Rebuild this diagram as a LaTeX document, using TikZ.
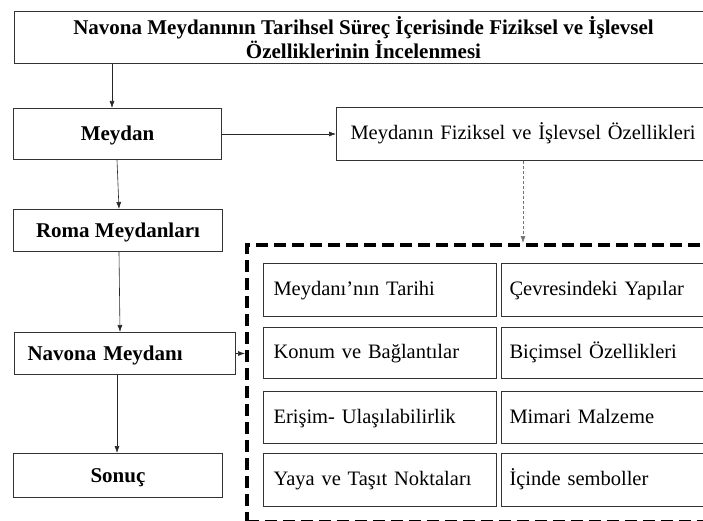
\documentclass[tikz,border=0pt]{standalone}
\usepackage{fontspec}
\setmainfont{Liberation Serif}
\usetikzlibrary{arrows.meta}
\begin{document}
\begin{tikzpicture}[x=1pt,y=-1pt,
  box/.style={draw=black!80, line width=1pt, anchor=north west, inner sep=0pt},
  bbox/.style={box, font=\bfseries\fontsize{21}{25}\selectfont},
  ltxt/.style={text height=17pt, text depth=3pt},
  ibox/.style={box, minimum height=52pt, align=left, text height=15pt, text depth=4pt, font=\fontsize{20.5}{24}\selectfont},
  arr/.style={draw=black!85, line width=0.6pt, -{Latex[length=7pt,width=5pt]}},
  darr/.style={draw=black!55, line width=0.6pt, dash pattern=on 3pt off 2pt, -{Latex[length=7pt,width=5pt]}},
  grp/.style={draw=black, line width=3.5pt, dash pattern=on 12pt off 6pt, anchor=north west, inner sep=0pt}]
\useasboundingbox (0,0) rectangle (703,521);
% title
\node[bbox, minimum width=698pt, minimum height=52pt, align=center] (title) at (14,11)
  {Navona Meydanının Tarihsel Süreç İçerisinde Fiziksel ve İşlevsel\\[-1pt]Özelliklerinin İncelenmesi};
% left column
\node[bbox, ltxt, minimum width=208pt, minimum height=51pt] (meydan) at (13,108) {Meydan};
\node[bbox, ltxt, minimum width=209pt, minimum height=42pt] (roma) at (13,209) {Roma Meydanları};
\node[bbox, ltxt, minimum width=208pt, minimum height=42pt, text width=195pt, inner xsep=13pt, align=left] (navona) at (14,332) {Navona Meydanı};
\node[bbox, ltxt, minimum width=209pt, minimum height=44pt] (sonuc) at (13,453) {Sonuç};
% right top box
\node[box, minimum width=376pt, minimum height=53pt, text width=362pt, inner xsep=14pt, align=left,
  text height=15pt, text depth=4pt, font=\fontsize{20.5}{24}\selectfont] (fiz) at (336,107) {Meydanın Fiziksel ve İşlevsel Özellikleri};
% dashed group
\node[grp, minimum width=475pt, minimum height=277pt] (group) at (245,243) {};
% inner boxes
\node[ibox, minimum width=223pt, text width=213pt, inner xsep=10pt, minimum height=53pt] (b1) at (263,263) {Meydanı’nın Tarihi};
\node[ibox, minimum width=200pt, text width=192pt, inner xsep=8pt, minimum height=53pt] (b2) at (501,263) {Çevresindeki Yapılar};
\node[ibox, minimum width=223pt, text width=213pt, inner xsep=10pt, minimum height=51pt] (b3) at (263,327) {Konum ve Bağlantılar};
\node[ibox, minimum width=200pt, text width=192pt, inner xsep=8pt, minimum height=51pt] (b4) at (501,327) {Biçimsel Özellikleri};
\node[ibox, minimum width=223pt, text width=213pt, inner xsep=10pt] (b5) at (263,391) {Erişim- Ulaşılabilirlik};
\node[ibox, minimum width=200pt, text width=192pt, inner xsep=8pt] (b6) at (501,391) {Mimari Malzeme};
\node[ibox, minimum width=223pt, text width=213pt, inner xsep=10pt, minimum height=53pt] (b7) at (263,453) {Yaya ve Taşıt Noktaları};
\node[ibox, minimum width=200pt, text width=192pt, inner xsep=8pt, minimum height=53pt] (b8) at (501,453) {İçinde semboller};
% connectors
\draw[arr] ([xshift=98pt]title.south west) -- ([xshift=99pt]meydan.north west);
\draw[arr] (meydan.east) -- (fiz.west);
\draw[arr] ([xshift=104pt]meydan.south west) -- ([xshift=106pt]roma.north west);
\draw[arr] ([xshift=106pt]roma.south west) -- ([xshift=106pt]navona.north west);
\draw[arr] ([xshift=103pt]navona.south west) -- ([xshift=104pt]sonuc.north west);
\draw[arr] (navona.east) -- (navona.east -| group.west);
\coordinate (fd) at ([xshift=187pt]fiz.south west);
\draw[darr] (fd) -- (fd |- group.north);
\end{tikzpicture}
\end{document}
